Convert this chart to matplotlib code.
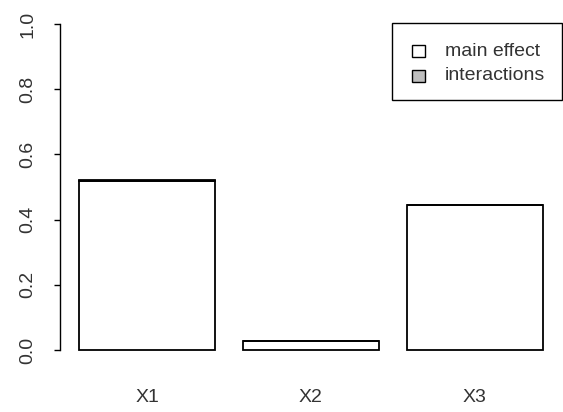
import numpy as np
import matplotlib.pyplot as plt
from matplotlib.patches import Rectangle

plt.rcParams['font.family'] = ['Liberation Sans', 'DejaVu Sans']

# first order indices and interaction part (fast99 style plot)
variables = ['X1', 'X2', 'X3']
main_effect = [0.517, 0.027, 0.446]
interactions = [0.006, 0.0, 0.0]

width = 1.0
space = 0.2
x = space + width / 2 + np.arange(len(variables)) * (width + space)

fig = plt.figure(figsize=(5.63, 4.12), dpi=100)
ax = fig.add_axes([60.4 / 563, 1 - 363 / 412, 501.2 / 563, 352 / 412])

ax.bar(x, main_effect, width=width, color='white', edgecolor='black', linewidth=1.3)
ax.bar(x, interactions, width=width, bottom=main_effect, color='#bebebe',
       edgecolor='black', linewidth=1.3)

xmin, xmax = space, x[-1] + width / 2
ext = 0.04 * (xmax - xmin)
ax.set_xlim(xmin - ext, xmax + ext)
ax.set_ylim(-0.04, 1.04)

for s in ['top', 'right', 'bottom']:
    ax.spines[s].set_visible(False)
ax.spines['left'].set_bounds(0, 1)
ax.spines['left'].set_linewidth(1.0)

ax.set_yticks(np.arange(0, 1.01, 0.2))
ax.set_yticklabels(['%.1f' % v for v in np.arange(0, 1.01, 0.2)], rotation=90,
                   va='center')
ax.tick_params(axis='y', length=4.5, width=1.0, pad=13, labelsize=14,
               labelcolor='#333333')
ax.set_xticks(x)
ax.set_xticklabels(variables)
ax.tick_params(axis='x', length=0, pad=19, labelsize=14, labelcolor='#333333')

# legend drawn R-style in the top right corner
tr = fig.transFigure
def px(xp, yp):
    return xp / 563, 1 - yp / 412

x0, y0 = px(391.7, 100)
x1, y1 = px(561.7, 23.3)
fig.patches.append(Rectangle((x0, y0), x1 - x0, y1 - y0, transform=tr,
                             facecolor='white', edgecolor='black', linewidth=1.0))
labels = ['main effect', 'interactions']
fills = ['white', '#bebebe']
for i, (lab, fc) in enumerate(zip(labels, fills)):
    yc = 51 + 25 * i
    bx, by = px(412, yc + 6)
    fig.patches.append(Rectangle((bx, by), 13 / 563, 12 / 412, transform=tr,
                                 facecolor=fc, edgecolor='black', linewidth=1.0))
    tx, ty = px(445, yc)
    fig.text(tx, ty, lab, fontsize=14, va='center', ha='left', color='#333333')

fig.savefig('out.png', dpi=100)
